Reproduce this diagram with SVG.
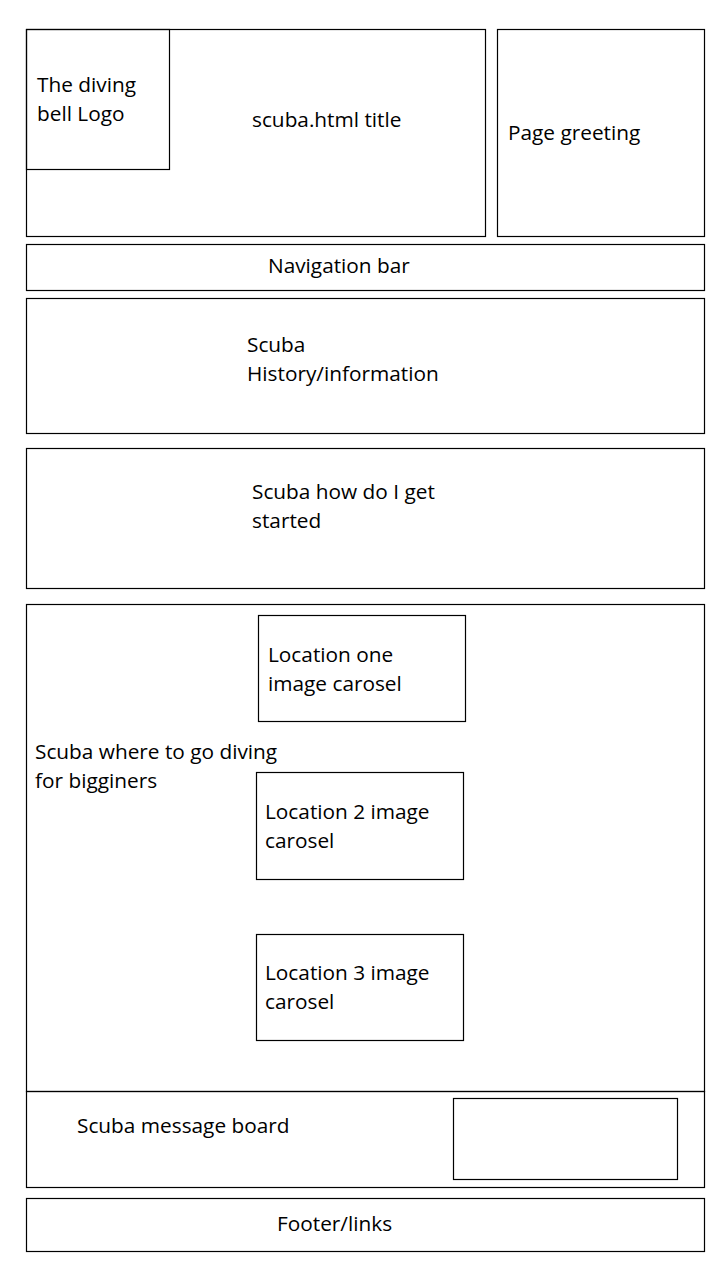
<svg xmlns="http://www.w3.org/2000/svg" width="720" height="1280" viewBox="0 0 720 1280">
<style>
rect{fill:none;stroke:#000;stroke-width:1.2}
text{font-family:"Open Sans","Noto Sans",sans-serif;font-size:20.8px;fill:#000}
</style>
<rect x="0" y="0" width="720" height="1280" style="fill:#fff;stroke:none"/>
<g id="header"><rect x="26.5" y="29.5" width="459" height="207"/><text x="252" y="127">scuba.html title</text></g>
<g id="logo"><rect x="26.5" y="29.5" width="143" height="140"/><text x="37" y="92">The diving</text><text x="37" y="121">bell Logo</text></g>
<g id="greeting"><rect x="497.5" y="29.5" width="207" height="207"/><text x="508" y="140">Page greeting</text></g>
<g id="nav"><rect x="26.5" y="244.5" width="678" height="46"/><text x="268" y="273">Navigation bar</text></g>
<g id="history"><rect x="26.5" y="298.5" width="678" height="135"/><text x="247" y="352">Scuba</text><text x="247" y="381">History/information</text></g>
<g id="started"><rect x="26.5" y="448.5" width="678" height="140"/><text x="252" y="499">Scuba how do I get</text><text x="252" y="528">started</text></g>
<g id="where"><rect x="26.5" y="604.5" width="678" height="487"/><text x="35" y="759">Scuba where to go diving</text><text x="35" y="788">for bigginers</text></g>
<g id="loc1"><rect x="258.5" y="615.5" width="207" height="106"/><text x="268" y="662">Location one</text><text x="268" y="691">image carosel</text></g>
<g id="loc2"><rect x="256.5" y="772.5" width="207" height="107"/><text x="265" y="819">Location 2 image</text><text x="265" y="848">carosel</text></g>
<g id="loc3"><rect x="256.5" y="934.5" width="207" height="106"/><text x="265" y="980">Location 3 image</text><text x="265" y="1009">carosel</text></g>
<g id="message"><rect x="26.5" y="1091.5" width="678" height="96"/><text x="77" y="1133">Scuba message board</text></g>
<g id="messagebox"><rect x="453.5" y="1098.5" width="224" height="81"/></g>
<g id="footer"><rect x="26.5" y="1198.5" width="678" height="53"/><text x="277" y="1231">Footer/links</text></g>
<g id="connectors"></g>
</svg>
